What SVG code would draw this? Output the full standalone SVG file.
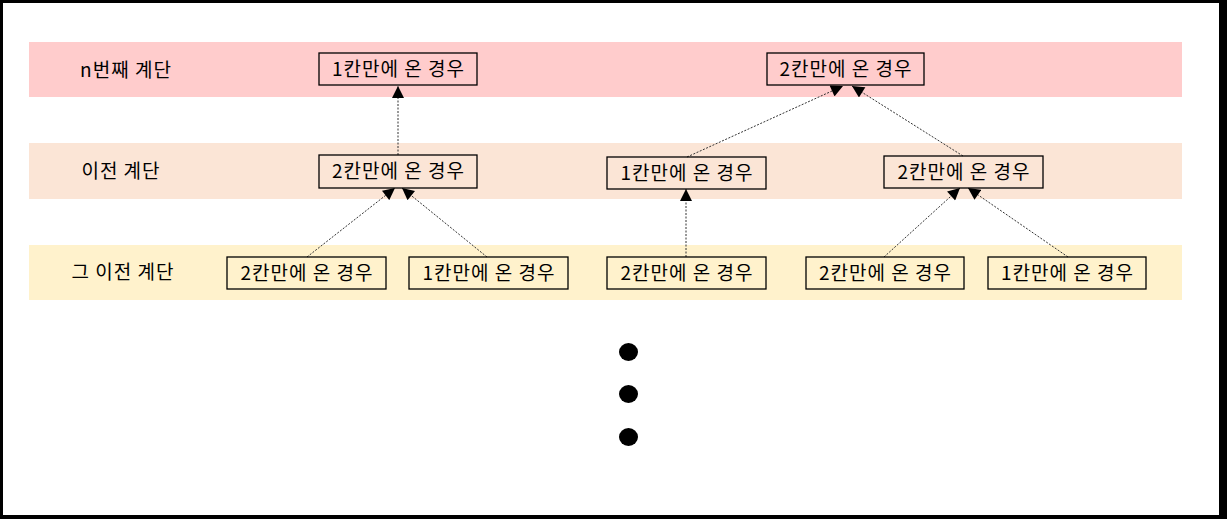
<svg xmlns="http://www.w3.org/2000/svg" width="1227" height="519" viewBox="0 0 1227 519">
<style>
.lbl{font-family:"Noto Sans CJK KR","Noto Sans",sans-serif;font-size:19px;letter-spacing:1px;fill:#000;text-anchor:middle}
.box{fill:none;stroke:#000;stroke-width:1.3}
.con{stroke:#333;stroke-width:1;stroke-dasharray:2,1.5;fill:none;marker-end:url(#ah)}
</style>
<defs>
<marker id="ah" viewBox="0 0 10 10" refX="10" refY="5" markerWidth="13" markerHeight="12" markerUnits="userSpaceOnUse" orient="auto">
<path d="M0,0 L10,5 L0,10 z" fill="#000"/>
</marker>
</defs>
<rect x="0" y="0" width="1227" height="519" fill="#000"/>
<rect x="3" y="3" width="1216" height="512" fill="#fff"/>
<g id="bands">
<rect x="29" y="42" width="1153" height="55" fill="#FFCCCC"/>
<rect x="29" y="143" width="1153" height="56" fill="#FBE5D6"/>
<rect x="29" y="245" width="1153" height="55" fill="#FFF2CC"/>
<text class="lbl" x="126" y="77">n번째 계단</text>
<text class="lbl" x="121" y="178">이전 계단</text>
<text class="lbl" x="123" y="279">그 이전 계단</text>
</g>
<g id="connectors">
<line class="con" x1="398" y1="155" x2="398" y2="86"/>
<line class="con" x1="687" y1="157" x2="843" y2="86"/>
<line class="con" x1="963" y1="156" x2="852" y2="86"/>
<line class="con" x1="307" y1="257" x2="395" y2="188"/>
<line class="con" x1="487" y1="257" x2="402" y2="188"/>
<line class="con" x1="686" y1="257" x2="686" y2="189"/>
<line class="con" x1="884" y1="257" x2="960" y2="188"/>
<line class="con" x1="1068" y1="257" x2="968" y2="188"/>
</g>
<g id="n1a"><rect class="box" x="319" y="53" width="158" height="32"/><text class="lbl" x="398.5" y="76">1칸만에 온 경우</text></g>
<g id="n1b"><rect class="box" x="767" y="53" width="157" height="32"/><text class="lbl" x="846" y="76">2칸만에 온 경우</text></g>
<g id="n2a"><rect class="box" x="319" y="155" width="158" height="33"/><text class="lbl" x="398.5" y="178">2칸만에 온 경우</text></g>
<g id="n2b"><rect class="box" x="607" y="157" width="159" height="32"/><text class="lbl" x="687" y="180">1칸만에 온 경우</text></g>
<g id="n2c"><rect class="box" x="884" y="156" width="159" height="32"/><text class="lbl" x="964" y="179">2칸만에 온 경우</text></g>
<g id="n3a"><rect class="box" x="227" y="257" width="159" height="32"/><text class="lbl" x="307" y="280">2칸만에 온 경우</text></g>
<g id="n3b"><rect class="box" x="409" y="257" width="159" height="32"/><text class="lbl" x="489" y="280">1칸만에 온 경우</text></g>
<g id="n3c"><rect class="box" x="607" y="257" width="159" height="32"/><text class="lbl" x="687" y="280">2칸만에 온 경우</text></g>
<g id="n3d"><rect class="box" x="806" y="257" width="158" height="32"/><text class="lbl" x="885.5" y="280">2칸만에 온 경우</text></g>
<g id="n3e"><rect class="box" x="988" y="257" width="158" height="32"/><text class="lbl" x="1067.5" y="280">1칸만에 온 경우</text></g>
<g id="dots">
<ellipse cx="628.5" cy="352" rx="9.5" ry="9" fill="#000"/>
<ellipse cx="628.5" cy="394" rx="9.5" ry="9" fill="#000"/>
<ellipse cx="628.5" cy="437" rx="9.5" ry="9" fill="#000"/>
</g>
</svg>
